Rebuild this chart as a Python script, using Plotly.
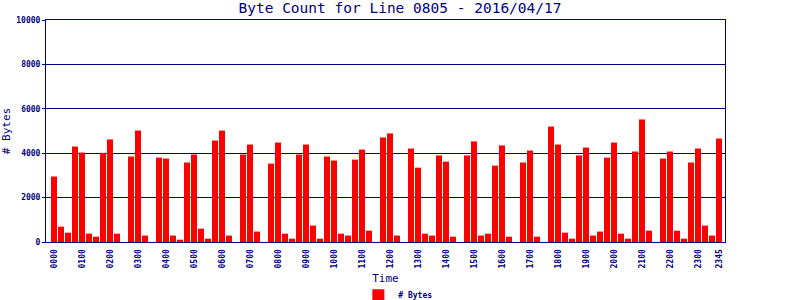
import plotly.graph_objects as go

# 15-minute intervals for the day
times = [f"{h:02d}{m:02d}" for h in range(24) for m in (0, 15, 30, 45)]

byte_counts = [
    2950, 690, 420, 4300,
    4030, 375, 240, 4015,
    4620, 375, 0, 3850,
    5020, 290, 0, 3800,
    3760, 290, 105, 3580,
    3940, 600, 150, 4570,
    5020, 290, 0, 3940,
    4390, 470, 0, 3530,
    4480, 375, 150, 3940,
    4390, 740, 150, 3850,
    3670, 375, 290, 3710,
    4165, 510, 0, 4710,
    4890, 290, 0, 4210,
    3350, 375, 290, 3900,
    3620, 240, 0, 3900,
    4530, 290, 375, 3440,
    4350, 240, 0, 3580,
    4120, 240, 0, 5200,
    4390, 420, 150, 3900,
    4255, 290, 470, 3800,
    4480, 375, 150, 4075,
    5520, 510, 0, 3760,
    4075, 510, 150, 3580,
    4210, 740, 290, 4660,
]

tick_labels = [f"{h:02d}00" for h in range(24)] + ["2345"]
y_ticks = [0, 2000, 4000, 6000, 8000, 10000]
y_tick_text = ["0", "2000", "4000", "6000", "8000", "10000"]

NAVY = "#000080"
MONO = "DejaVu Sans Mono"

fig = go.Figure()
fig.add_trace(go.Bar(
    x=times, y=byte_counts, name="# Bytes",
    marker=dict(color="#FF0000", line=dict(width=0)),
))

fig.update_layout(
    width=800, height=300,
    margin=dict(l=46, r=75, t=20, b=58, autoexpand=False),
    paper_bgcolor="white", plot_bgcolor="white",
    bargap=0.143,
    title=dict(text="Byte Count for Line 0805 - 2016/04/17",
               font=dict(family=MONO, size=14.5, color=NAVY),
               x=0.5, xref="container", xanchor="center", y=0.972, yanchor="middle"),
    showlegend=True,
    legend=dict(orientation="h", x=0.46, xanchor="left", y=-0.24, yanchor="middle",
                font=dict(family=MONO, size=8, color=NAVY, weight="bold"),
                itemwidth=30, bgcolor="rgba(0,0,0,0)"),
)

fig.update_xaxes(
    type="category", range=[-1.14, 95.86], automargin=False,
    tickmode="array", tickvals=tick_labels, ticktext=tick_labels,
    tickangle=-90, tickfont=dict(family=MONO, size=8, color=NAVY, weight="bold"),
    showline=True, linecolor=NAVY, linewidth=1, mirror=True,
    showgrid=False, ticks="outside", ticklen=3, tickcolor="rgba(0,0,0,0)",
    title=dict(text="Time", font=dict(family=MONO, size=11, color=NAVY), standoff=6),
)
fig.update_yaxes(
    range=[0, 10000], automargin=False, tickmode="array",
    tickvals=y_ticks, ticktext=y_tick_text,
    tickfont=dict(family=MONO, size=8, color=NAVY, weight="bold"),
    showline=True, linecolor=NAVY, linewidth=1, mirror=True,
    showgrid=True, gridcolor=NAVY, gridwidth=1, zeroline=False,
    ticks="outside", ticklen=3, tickcolor=NAVY,
    title=dict(text="# Bytes", font=dict(family=MONO, size=11, color=NAVY), standoff=8),
)

fig.write_html("out.html")
